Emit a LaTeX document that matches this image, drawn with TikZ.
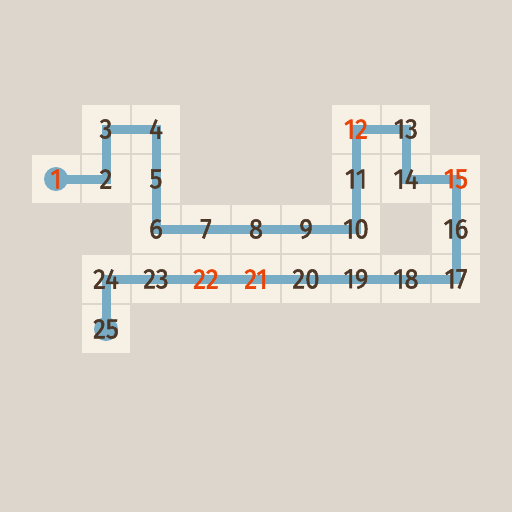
\documentclass[tikz,border=0pt]{standalone}
\usepackage{fontspec}
\setmainfont{Fira Sans}
\newfontfamily\numfont{Fira Sans}[FakeBold=2]
\usetikzlibrary{positioning}
\definecolor{board}{RGB}{221,214,204}
\definecolor{tile}{RGB}{247,240,229}
\definecolor{trail}{RGB}{120,172,196}
\definecolor{ink}{RGB}{77,56,40}
\definecolor{hot}{RGB}{232,68,10}

\begin{document}
\begin{tikzpicture}[
  x=1pt,y=-1pt,
  cell/.style={rectangle,fill=tile,minimum size=48pt,inner sep=0pt},
  num/.style={font=\numfont\fontsize{28}{28}\selectfont,text=ink,inner sep=0pt,xscale=0.92},
  given/.style={num,text=hot},
  trailline/.style={draw=trail,line width=9pt,line join=miter},
  endpt/.style={circle,fill=trail,minimum size=24pt,inner sep=0pt}
]
  \fill[board] (0,0) rectangle (512,512);
  % cells: number / column / row
  \foreach \n/\c/\r in {1/0/1,2/1/1,3/1/0,4/2/0,5/2/1,6/2/2,7/3/2,8/4/2,9/5/2,
      10/6/2,11/6/1,12/6/0,13/7/0,14/7/1,15/8/1,16/8/2,17/8/3,18/7/3,
      19/6/3,20/5/3,21/4/3,22/3/3,23/2/3,24/1/3,25/1/4}
    \node[cell] (c\n) at (56+50*\c,129+50*\r) {};
  % trail
  \node[endpt] at (c1) {};
  \node[endpt] at (c25) {};
  \draw[trailline] (c1.center) \foreach \n in {2,...,25} { -- (c\n.center) };
  % labels
  \foreach \n/\s in {1/given,2/num,3/num,4/num,5/num,6/num,7/num,8/num,9/num,
      10/num,11/num,12/given,13/num,14/num,15/given,16/num,17/num,18/num,19/num,
      20/num,21/given,22/given,23/num,24/num,25/num}
    \node[\s] at (c\n) {\n};
\end{tikzpicture}
\end{document}
